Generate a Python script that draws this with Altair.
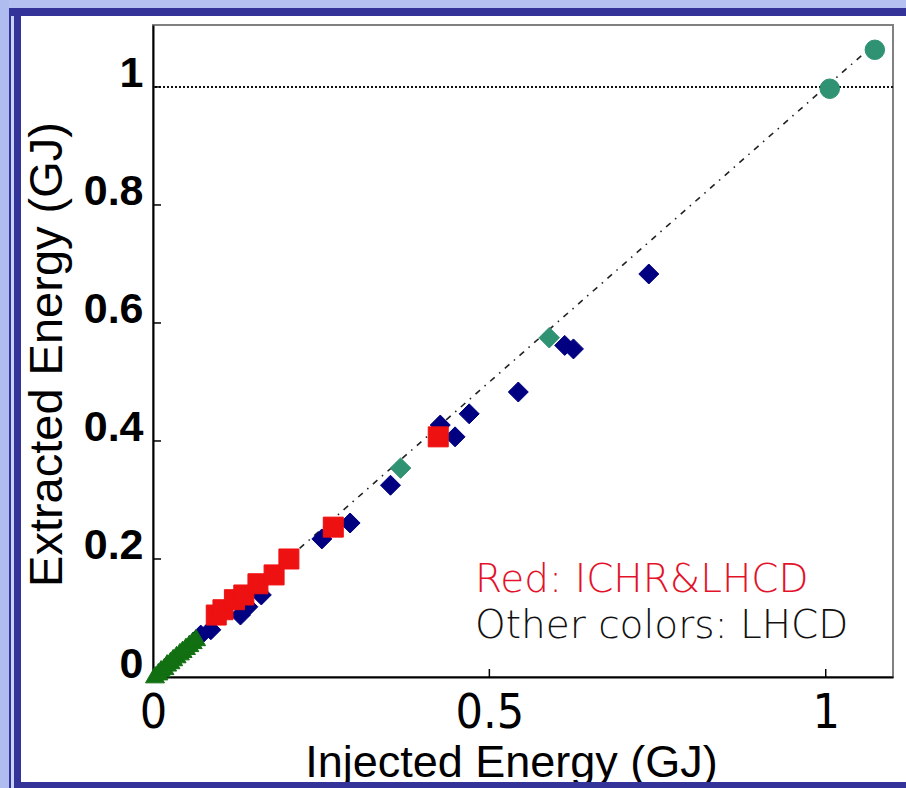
import altair as alt
import pandas as pd

# ---------------- data ----------------
green_tri_x = [0.003, 0.008, 0.012, 0.017, 0.021, 0.026, 0.030, 0.035, 0.040, 0.044, 0.049, 0.054, 0.059, 0.064]
green_tri_y = [0.004, 0.009, 0.014, 0.018, 0.024, 0.028, 0.033, 0.038, 0.043, 0.047, 0.052, 0.057, 0.062, 0.067]

blue_x = [0.071, 0.086, 0.130, 0.141, 0.161, 0.251, 0.293, 0.353, 0.427, 0.449, 0.470, 0.543, 0.612, 0.625, 0.737]
blue_y = [0.071, 0.080, 0.105, 0.119, 0.139, 0.234, 0.261, 0.325, 0.427, 0.407, 0.446, 0.483, 0.562, 0.556, 0.683]

red_x = [0.094, 0.104, 0.121, 0.135, 0.156, 0.180, 0.202, 0.268, 0.424]
red_y = [0.105, 0.114, 0.131, 0.139, 0.158, 0.173, 0.200, 0.254, 0.407]

teal_diamond_x = [0.368, 0.589]
teal_diamond_y = [0.354, 0.575]

teal_circle_x = [1.006, 1.073]
teal_circle_y = [0.997, 1.063]

ref_line_x = [0.0, 1.07]
ref_line_y = [0.0, 1.07]

hline_y = [1.0]

x_tick_values = [0, 0.5, 1]
y_tick_values = [0, 0.2, 0.4, 0.6, 0.8, 1]

W, H = 740, 652
XDOM, YDOM = [0, 1.1], [0, 1.105]

xs = alt.Scale(domain=XDOM, nice=False, zero=False)
ys = alt.Scale(domain=YDOM, nice=False, zero=False)

df_green = pd.DataFrame({"x": green_tri_x, "y": green_tri_y})
df_blue = pd.DataFrame({"x": blue_x, "y": blue_y})
df_red = pd.DataFrame({"x": red_x, "y": red_y})
df_td = pd.DataFrame({"x": teal_diamond_x, "y": teal_diamond_y})
df_tc = pd.DataFrame({"x": teal_circle_x, "y": teal_circle_y})
df_line = pd.DataFrame({"x": ref_line_x, "y": ref_line_y})
df_h = pd.DataFrame({"y": hline_y})
df_xt = pd.DataFrame({"x": [v for v in x_tick_values if v > 0]})
df_yt = pd.DataFrame({"y": [v for v in y_tick_values if v > 0]})
dummy = pd.DataFrame({"k": [0]})

x_axis = alt.Axis(
    values=x_tick_values, format="~g", ticks=False, grid=False,
    domainColor="black", domainWidth=2, labelFlush=False, labelOverlap=False,
    labelFont="Liberation Sans Narrow, Arial Narrow, DejaVu Sans Condensed, Liberation Sans",
    labelFontSize=48, labelPadding=12, labelColor="black",
    title="Injected Energy (GJ)", titleFont="Liberation Sans", titleFontSize=45,
    titleFontWeight="normal", titleColor="black", titleX=358, titleY=99,
    titleBaseline="alphabetic", titleAlign="center",
)
y_axis = alt.Axis(
    values=y_tick_values, format="~g", ticks=False, grid=False,
    domainColor="black", domainWidth=2, labelFlush=False, labelOverlap=False,
    labelFont="Liberation Sans", labelFontWeight="bold", labelFontSize=43,
    labelBaseline="alphabetic", labelPadding=10, labelColor="black",
    title="Extracted Energy (GJ)", titleFont="Liberation Sans", titleFontSize=47,
    titleFontWeight="normal", titleColor="black", titleX=-92, titleY=329,
    titleBaseline="alphabetic", titleAlign="center", titleAngle=270,
)

X = alt.X("x:Q", scale=xs, axis=x_axis)
Y = alt.Y("y:Q", scale=ys, axis=y_axis)

def pts(df, shape, color, size):
    return alt.Chart(df).mark_point(shape=shape, filled=True, color=color, size=size,
                                    opacity=1, stroke=color, strokeWidth=1).encode(x=X, y=Y)

ref_line = alt.Chart(df_line).mark_line(color="#222222", strokeWidth=1.6,
                                        strokeDash=[6, 6, 1.5, 6]).encode(x=X, y=Y)
hline = alt.Chart(df_h).mark_rule(color="#111111", strokeWidth=2, strokeDash=[2, 2]).encode(y=Y)

xticks = alt.Chart(df_xt).mark_rule(color="black", strokeWidth=1.5).encode(
    x=X, y=alt.value(H), y2=alt.value(H - 8))
yticks = alt.Chart(df_yt).mark_rule(color="black", strokeWidth=1.5).encode(
    y=Y, x=alt.value(0), x2=alt.value(8))

blue = pts(df_blue, "diamond", "#000080", 400)
green = pts(df_green, "triangle-up", "#127012", 360)
red = pts(df_red, "square", "#ee1111", 400)
teal_d = pts(df_td, "diamond", "#2f9272", 420)
teal_c = pts(df_tc, "circle", "#2f9272", 380)

txt_red = alt.Chart(dummy).mark_text(
    text="Red: ICHR&LHCD", align="left", baseline="alphabetic", font="DejaVu Sans",
    fontSize=39, fontWeight=200, color="#e3122a").encode(x=alt.value(322), y=alt.value(567))
txt_other = alt.Chart(dummy).mark_text(
    text="Other colors: LHCD", align="left", baseline="alphabetic", font="DejaVu Sans",
    fontSize=39, fontWeight=200, color="#111111").encode(x=alt.value(322), y=alt.value(613))

# decorative slide frame (relative to plot origin at canvas (153, 25))
def frame(x0, x1, y0, y1, color):
    return alt.Chart(dummy).mark_rect(color=color, opacity=1).encode(
        x=alt.value(x0 - 153), x2=alt.value(x1 - 153),
        y=alt.value(y0 - 25), y2=alt.value(y1 - 25))

frames = [
    frame(0, 906, 0, 8, "#b4c1f1"),
    frame(0, 9, 0, 788, "#aebcef"),
    frame(9, 906, 8, 16, "#333399"),
    frame(9, 11, 8, 788, "#333399"),
    frame(11, 14, 16, 788, "#c9d1f5"),
    frame(14, 21, 16, 788, "#333399"),
    frame(14, 906, 782, 788, "#333399"),
]

chart = alt.layer(
    ref_line, hline, xticks, yticks, blue, green, red, teal_d, teal_c,
    txt_red, txt_other, *frames,
).properties(
    width=W, height=H,
    autosize=alt.AutoSizeParams(type="none"),
    padding={"left": 153, "top": 25, "right": 13, "bottom": 111},
).configure(background="white").configure_view(stroke="#808080", strokeWidth=2)

chart.save("out.html", embed_options={"renderer": "svg", "actions": False})
